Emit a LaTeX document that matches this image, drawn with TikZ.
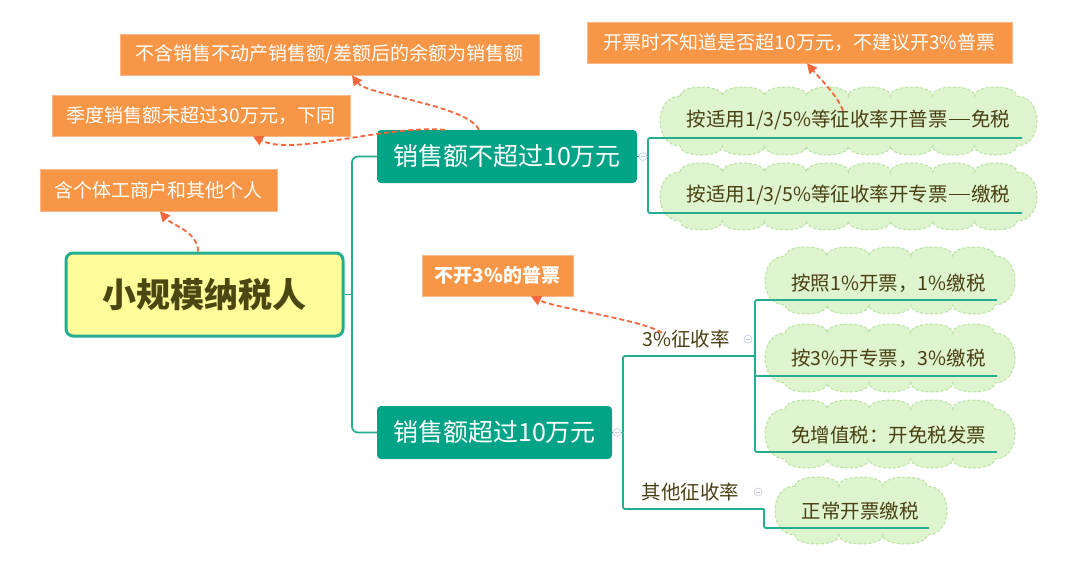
\documentclass[tikz,border=0pt]{standalone}
\usepackage{fontspec}
\setmainfont{Noto Sans CJK SC}
\usetikzlibrary{arrows.meta}
\definecolor{orangefill}{HTML}{F79646}
\definecolor{orangeedge}{HTML}{FAB78C}
\definecolor{tealfill}{HTML}{02A386}
\definecolor{tealline}{HTML}{24AE8F}
\definecolor{mainfill}{HTML}{FFFC9A}
\definecolor{maintext}{HTML}{4A4712}
\definecolor{leaftextcol}{HTML}{4A3F12}
\definecolor{arrowcol}{HTML}{F4683C}
\definecolor{cloudfill}{HTML}{DDF4CE}
\definecolor{cloudedge}{HTML}{B9E3A2}
\definecolor{clpcol}{HTML}{C3C8E6}
\newcommand\cloudbg[5]{%
  \pgfmathsetmacro\cbh{#4-#2}%
  \pgfmathsetmacro\cbxa{#1+0.3*\cbh}%
  \pgfmathsetmacro\cbxb{#3-0.3*\cbh}%
  \pgfmathsetmacro\cbw{(\cbxb-\cbxa)/#5}%
  \pgfmathsetmacro\cbc{0.4*\cbh}%
  \path[cloudsty] (\cbxa,#2+9) foreach \i in {1,...,#5}{ .. controls +(0,-12) and +(0,-12) .. ++(\cbw,0) }
    .. controls +(\cbc,0) and +(\cbc,0) .. (\cbxb,#4-9)
    foreach \i in {1,...,#5}{ .. controls +(0,12) and +(0,12) .. ++(-\cbw,0) }
    .. controls +(-\cbc,0) and +(-\cbc,0) .. cycle;
}
\newcommand\longdash{\hspace{0.06em}\rule[0.33em]{1.08em}{1.3pt}\hspace{0.06em}}
\tikzset{
  orangebox/.style={fill=orangefill, draw=orangeedge, line width=0.6pt, text=white, font=\fontsize{19}{22}\selectfont, inner sep=0pt},
  tealbox/.style={fill=tealfill, rounded corners=4pt, text=white, font=\fontsize{25}{28}\selectfont, inner sep=0pt},
  mainbox/.style={fill=mainfill, draw=tealline, line width=3pt, rounded corners=7pt, text=maintext, font=\fontsize{34}{38}\selectfont\bfseries, inner sep=0pt},
  leaftext/.style={text=leaftextcol, font=\fontsize{19.5}{22}\selectfont, inner sep=1pt},
  branch/.style={draw=tealline, line width=1.8pt, rounded corners=2pt},
  notearrow/.style={draw=arrowcol, line width=1.8pt, dash pattern=on 5pt off 3pt, -{Triangle[length=10pt,width=10pt]}},
  collapse/.style={circle, draw=clpcol, fill=white, line width=0.6pt, minimum size=8pt, inner sep=0pt,
    path picture={\draw[clpcol, line width=0.6pt] ([xshift=1.8pt]path picture bounding box.west) -- ([xshift=-1.8pt]path picture bounding box.east);}},
  cloudsty/.style={fill=cloudfill, draw=cloudedge, line width=1pt, dash pattern=on 3pt off 2pt},
}
\begin{document}
\begin{tikzpicture}[x=1pt,y=-1pt]
\fill[white] (0,0) rectangle (1080,562);
\useasboundingbox (0,0) rectangle (1080,562);

% clouds (backgrounds)
\cloudbg{660}{87}{1037}{155}{8}
\cloudbg{660}{163}{1037}{230}{8}
\cloudbg{765}{247}{1015}{314}{5}
\cloudbg{765}{324}{1015}{392}{5}
\cloudbg{765}{400}{1015}{468}{5}
\cloudbg{775}{477}{947}{544}{3}

% main nodes
\node[mainbox, minimum width=277pt, minimum height=83pt] (m) at (204.5,294.5) {小规模纳税人};
\node[tealbox, minimum width=260pt, minimum height=53pt] (t1) at (507,156.5) {销售额不超过10万元};
\node[tealbox, minimum width=235pt, minimum height=53pt] (t2) at (494.5,432.5) {销售额超过10万元};

% callouts
\node[orangebox, minimum width=419pt, minimum height=41pt] (o1) at (329.5,54.5) {不含销售不动产销售额/差额后的余额为销售额};
\node[orangebox, minimum width=298pt, minimum height=41pt] (o2) at (201,115.5) {季度销售额未超过30万元，下同};
\node[orangebox, minimum width=237pt, minimum height=42pt] (o3) at (158.5,190) {含个体工商户和其他个人};
\node[orangebox, minimum width=425pt, minimum height=41pt] (o4) at (799.5,42.5) {开票时不知道是否超10万元，不建议开3\%普票};
\node[orangebox, minimum width=151pt, minimum height=41pt, font=\fontsize{19}{22}\selectfont\bfseries] (o5) at (497.5,275.5) {不开3\%的普票};

% leaf texts
\node[leaftext] (c11) at (848.5,120) {按适用1/3/5\%等征收率开普票\longdash 免税};
\node[leaftext] (c12) at (848.5,195) {按适用1/3/5\%等征收率开专票\longdash 缴税};
\node[leaftext] (c21) at (888.5,283) {按照1\%开票，1\%缴税};
\node[leaftext] (c22) at (888.5,358) {按3\%开专票，3\%缴税};
\node[leaftext] (c23) at (888.5,435) {免增值税：开免税发票};
\node[leaftext] (c24) at (860,511) {正常开票缴税};
\node[leaftext] (r3) at (686,339) {3\%征收率};
\node[leaftext] (ro) at (690.5,492) {其他征收率};

% junctions and line ends
\coordinate (j0) at (352,294.5);
\coordinate (j1) at (648,156.5);
\coordinate (j2) at (623,432.5);
\coordinate (u11) at (1022,138);
\coordinate (u12) at (1022,213);
\coordinate (r3e) at (755,356);
\coordinate (roe) at (764,509);
\coordinate (u21) at (997,300);
\coordinate (u22) at (997,376);
\coordinate (u23) at (997,452);
\coordinate (u24) at (929,528);

% branches
\draw[branch] (m.east) -- (j0);
\draw[branch, rounded corners=6pt] (j0) |- (t1.west);
\draw[branch, rounded corners=6pt] (j0) |- (t2.west);
\draw[branch] (t1.east) -- (j1);
\draw[branch] (j1) |- (u11);
\draw[branch] (j1) |- (u12);
\draw[branch] (t2.east) -- (j2);
\draw[branch] (j2) |- (r3e);
\draw[branch] (j2) |- (roe);
\draw[branch] (r3e) |- (u21);
\draw[branch] (r3e) |- (u22);
\draw[branch] (r3e) |- (u23);
\draw[branch] (roe) |- (u24);

% collapse markers
\node[collapse] (k1) at (643,156.5) {};
\node[collapse] (k2) at (617,432.5) {};
\node[collapse] (k3) at (748,339) {};
\node[collapse] (k4) at (758,492) {};

% note arrows
\draw[notearrow] ([xshift=-6.5pt]m.north) .. controls +(0,-20) and +(12,14) .. ([xshift=1.5pt]o3.south);
\draw[notearrow] ([xshift=-28pt]t1.north) .. controls +(-12,-25) and +(15,20) .. ([xshift=22.5pt]o1.south);
\draw[notearrow] ([xshift=-62pt]t1.north) .. controls +(-60,-5) and +(40,20) .. ([xshift=52pt]o2.south);
\draw[notearrow] ([xshift=-5.5pt,yshift=-2pt]c11.north) .. controls +(-5,-15) and +(10,12) .. ([xshift=7.5pt]o4.south);
\draw[notearrow] ([xshift=-24pt,yshift=-4pt]r3.north) .. controls +(-20,-13) and +(25,12) .. ([xshift=33.5pt]o5.south);
\end{tikzpicture}
\end{document}
